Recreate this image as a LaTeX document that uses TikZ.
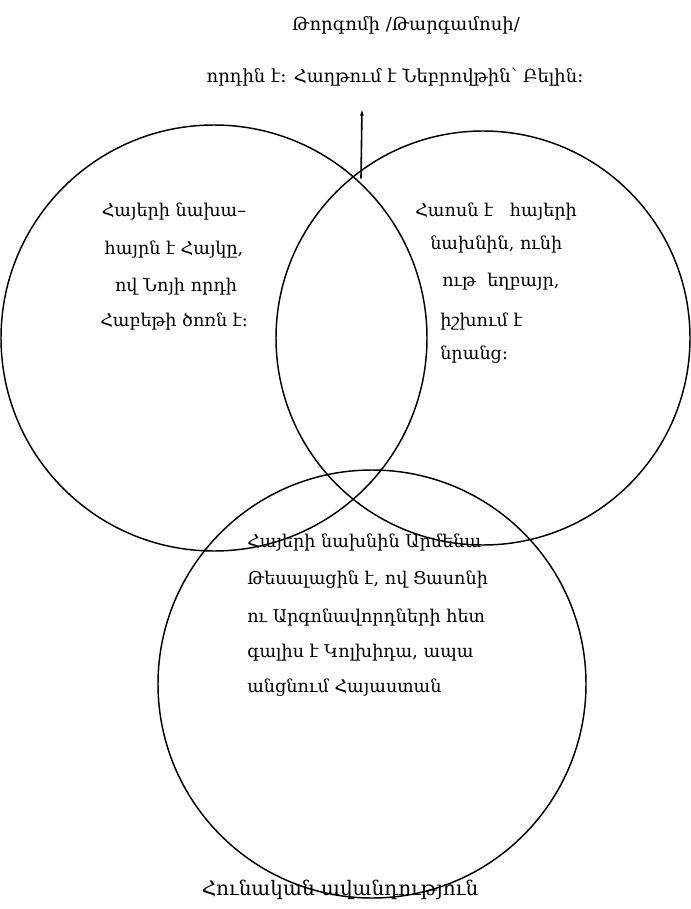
\documentclass[tikz,border=0pt]{standalone}
\usepackage{fontspec}
\newfontfamily\armfont[Script=Armenian]{DejaVu Serif}
\usepackage{tikz}
\usetikzlibrary{arrows.meta}
\usetikzlibrary{positioning}

\tikzset{
  ring/.style={line width=1.1pt},
  headtext/.style={font=\armfont\fontsize{13.5}{15}\selectfont, inner sep=0pt},
  bodytext/.style={font=\armfont\fontsize{13.2}{15}\selectfont, inner sep=0pt},
}

\begin{document}
\begin{tikzpicture}[x=0.75pt, y=-0.75pt, line join=round, line cap=round]

\useasboundingbox (0,0) rectangle (691,909);

% three circles
\draw[ring] (214,338) circle (213);
\draw[ring] (483,338) circle (207);
\draw[ring] (372,684) circle (214);

% title and pointer
\node[headtext] (title1) at (406,25) {Թորգոմի /Թարգամոսի/};
\node[headtext] (title2) at (395,77) {որդին է: Հաղթում է Նեբրովթին՝ Բելին:};
\coordinate (meet) at (361,178);
\coordinate (tip) at (362,109);
\draw[line width=1.2pt, -{Latex[length=5pt,width=3pt]}] (meet) -- (tip);

% left circle
\node[bodytext] (hayk1) at (174,212) {Հայերի նախա–};
\node[bodytext] (hayk2) at (174,250) {հայրն է Հայկը,};
\node[bodytext] (hayk3) at (176,287) {ով Նոյի որդի};
\node[bodytext] (hayk4) at (174,322) {Հաբեթի ծոռն է:};

% right circle
\node[bodytext, anchor=west] (haos1) at (415,212) {Հաոսն է \ \ հայերի};
\node[bodytext, anchor=west] (haos2) at (430,245) {նախնին, ունի};
\node[bodytext, anchor=west] (haos3) at (442,282) {ութ \ եղբայր,};
\node[bodytext, anchor=west] (haos4) at (440,322) {իշխում է};
\node[bodytext, anchor=west] (haos5) at (440,355) {նրանց:};

% bottom circle
\node[bodytext, anchor=west] (armen1) at (247,543) {Հայերի նախնին Արմենա};
\node[bodytext, anchor=west] (armen2) at (247,580) {Թեսալացին է, ով Ցասոնի};
\node[bodytext, anchor=west] (armen3) at (247,618) {ու Արգոնավորդների հետ};
\node[bodytext, anchor=west] (armen4) at (247,653) {գալիս է Կոլխիդա, ապա};
\node[bodytext, anchor=west] (armen5) at (247,688) {անցնում Հայաստան};

\node[headtext, font=\armfont\fontsize{15}{17}\selectfont] (source) at (340,890) {Հունական ավանդություն};

\end{tikzpicture}
\end{document}
